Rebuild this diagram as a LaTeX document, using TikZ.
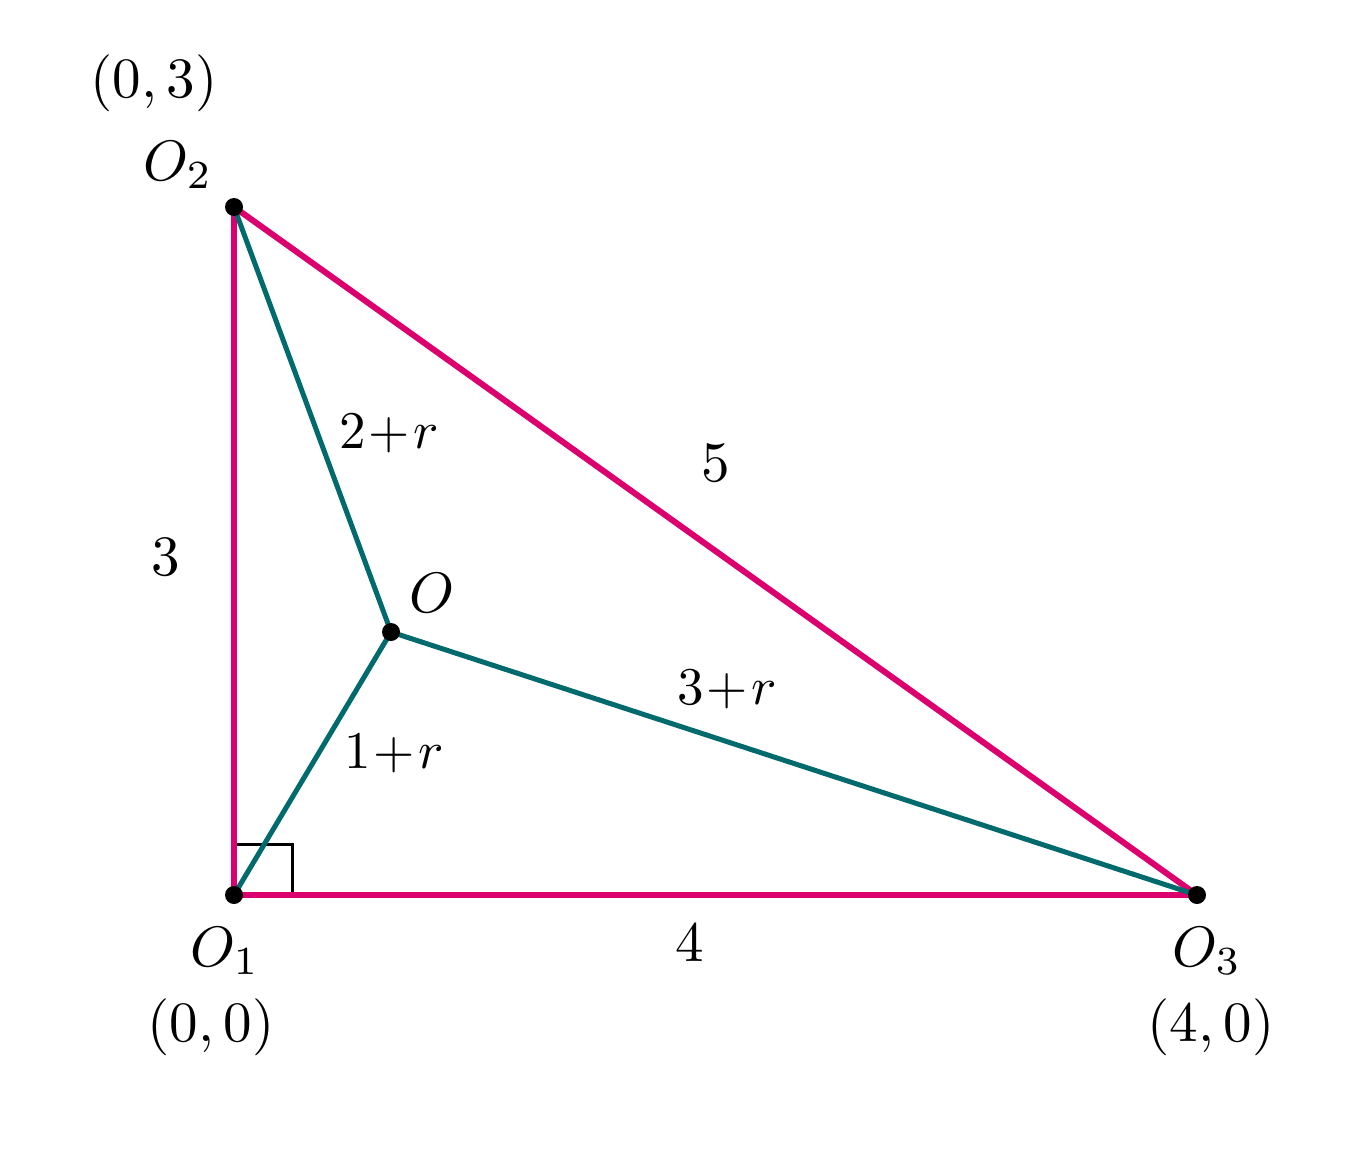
\documentclass[tikz,border=0pt]{standalone}
\usepackage{graphicx}
\usepackage{tikz}
\definecolor{mag}{RGB}{220,0,110}
\definecolor{tealc}{RGB}{0,106,108}
\newcommand{\bigt}[1]{\scalebox{5.7}{$#1$}}
\newcommand{\labt}[1]{\scalebox{5.3}{$#1$}}
\begin{document}
\begin{tikzpicture}[x=1pt,y=-1pt,
  big/.style={inner sep=0pt},
  lab/.style={inner sep=0pt},
  side/.style={draw=mag,line width=6pt},
  spoke/.style={draw=tealc,line width=5pt},
  dot/.style={circle,fill=black,inner sep=0pt,minimum size=18pt}]
\useasboundingbox[fill=white] (0,0) rectangle (1364,1153);
\coordinate (P1) at (234,895);
\coordinate (P2) at (234,207);
\coordinate (P3) at (1197,895);
\coordinate (P0) at (391,632);
% right angle mark
\draw[line width=3pt] (234,844) -- (292,844) -- (292,895);
% sides
\draw[side] (P1) -- (P2);
\draw[side] (P1) -- (P3);
\draw[side] (P2) -- (P3);
% spokes
\draw[spoke] (P0) -- (P1);
\draw[spoke] (P0) -- (P2);
\draw[spoke] (P0) -- (P3);
% dots
\node[dot] (d1) at (P1) {};
\node[dot] (d2) at (P2) {};
\node[dot] (d3) at (P3) {};
\node[dot] (d0) at (P0) {};
% labels
\node[big] (c2) at (154,83) {\bigt{(0,3)}};
\node[big] (n2) at (178,165) {\bigt{O_2}};
\node[big] (n1) at (225,951) {\bigt{O_1}};
\node[big] (c1) at (211,1027) {\bigt{(0,0)}};
\node[big] (n3) at (1207,951) {\bigt{O_3}};
\node[big] (c3) at (1211,1027) {\bigt{(4,0)}};
\node[big] (n0) at (432,593) {\bigt{O}};
\node[big] (s3) at (166,557) {\bigt{3}};
\node[big] (s5) at (716,463) {\bigt{5}};
\node[big] (s4) at (690,943) {\bigt{4}};
\node[lab] (l2) at (389,434) {\labt{2\mkern1mu{+}\mkern1mu r}};
\node[lab] (l3) at (727,690) {\labt{3\mkern1mu{+}\mkern1mu r}};
\node[lab] (l1) at (394,754) {\labt{1\mkern1mu{+}\mkern1mu r}};
\end{tikzpicture}
\end{document}
